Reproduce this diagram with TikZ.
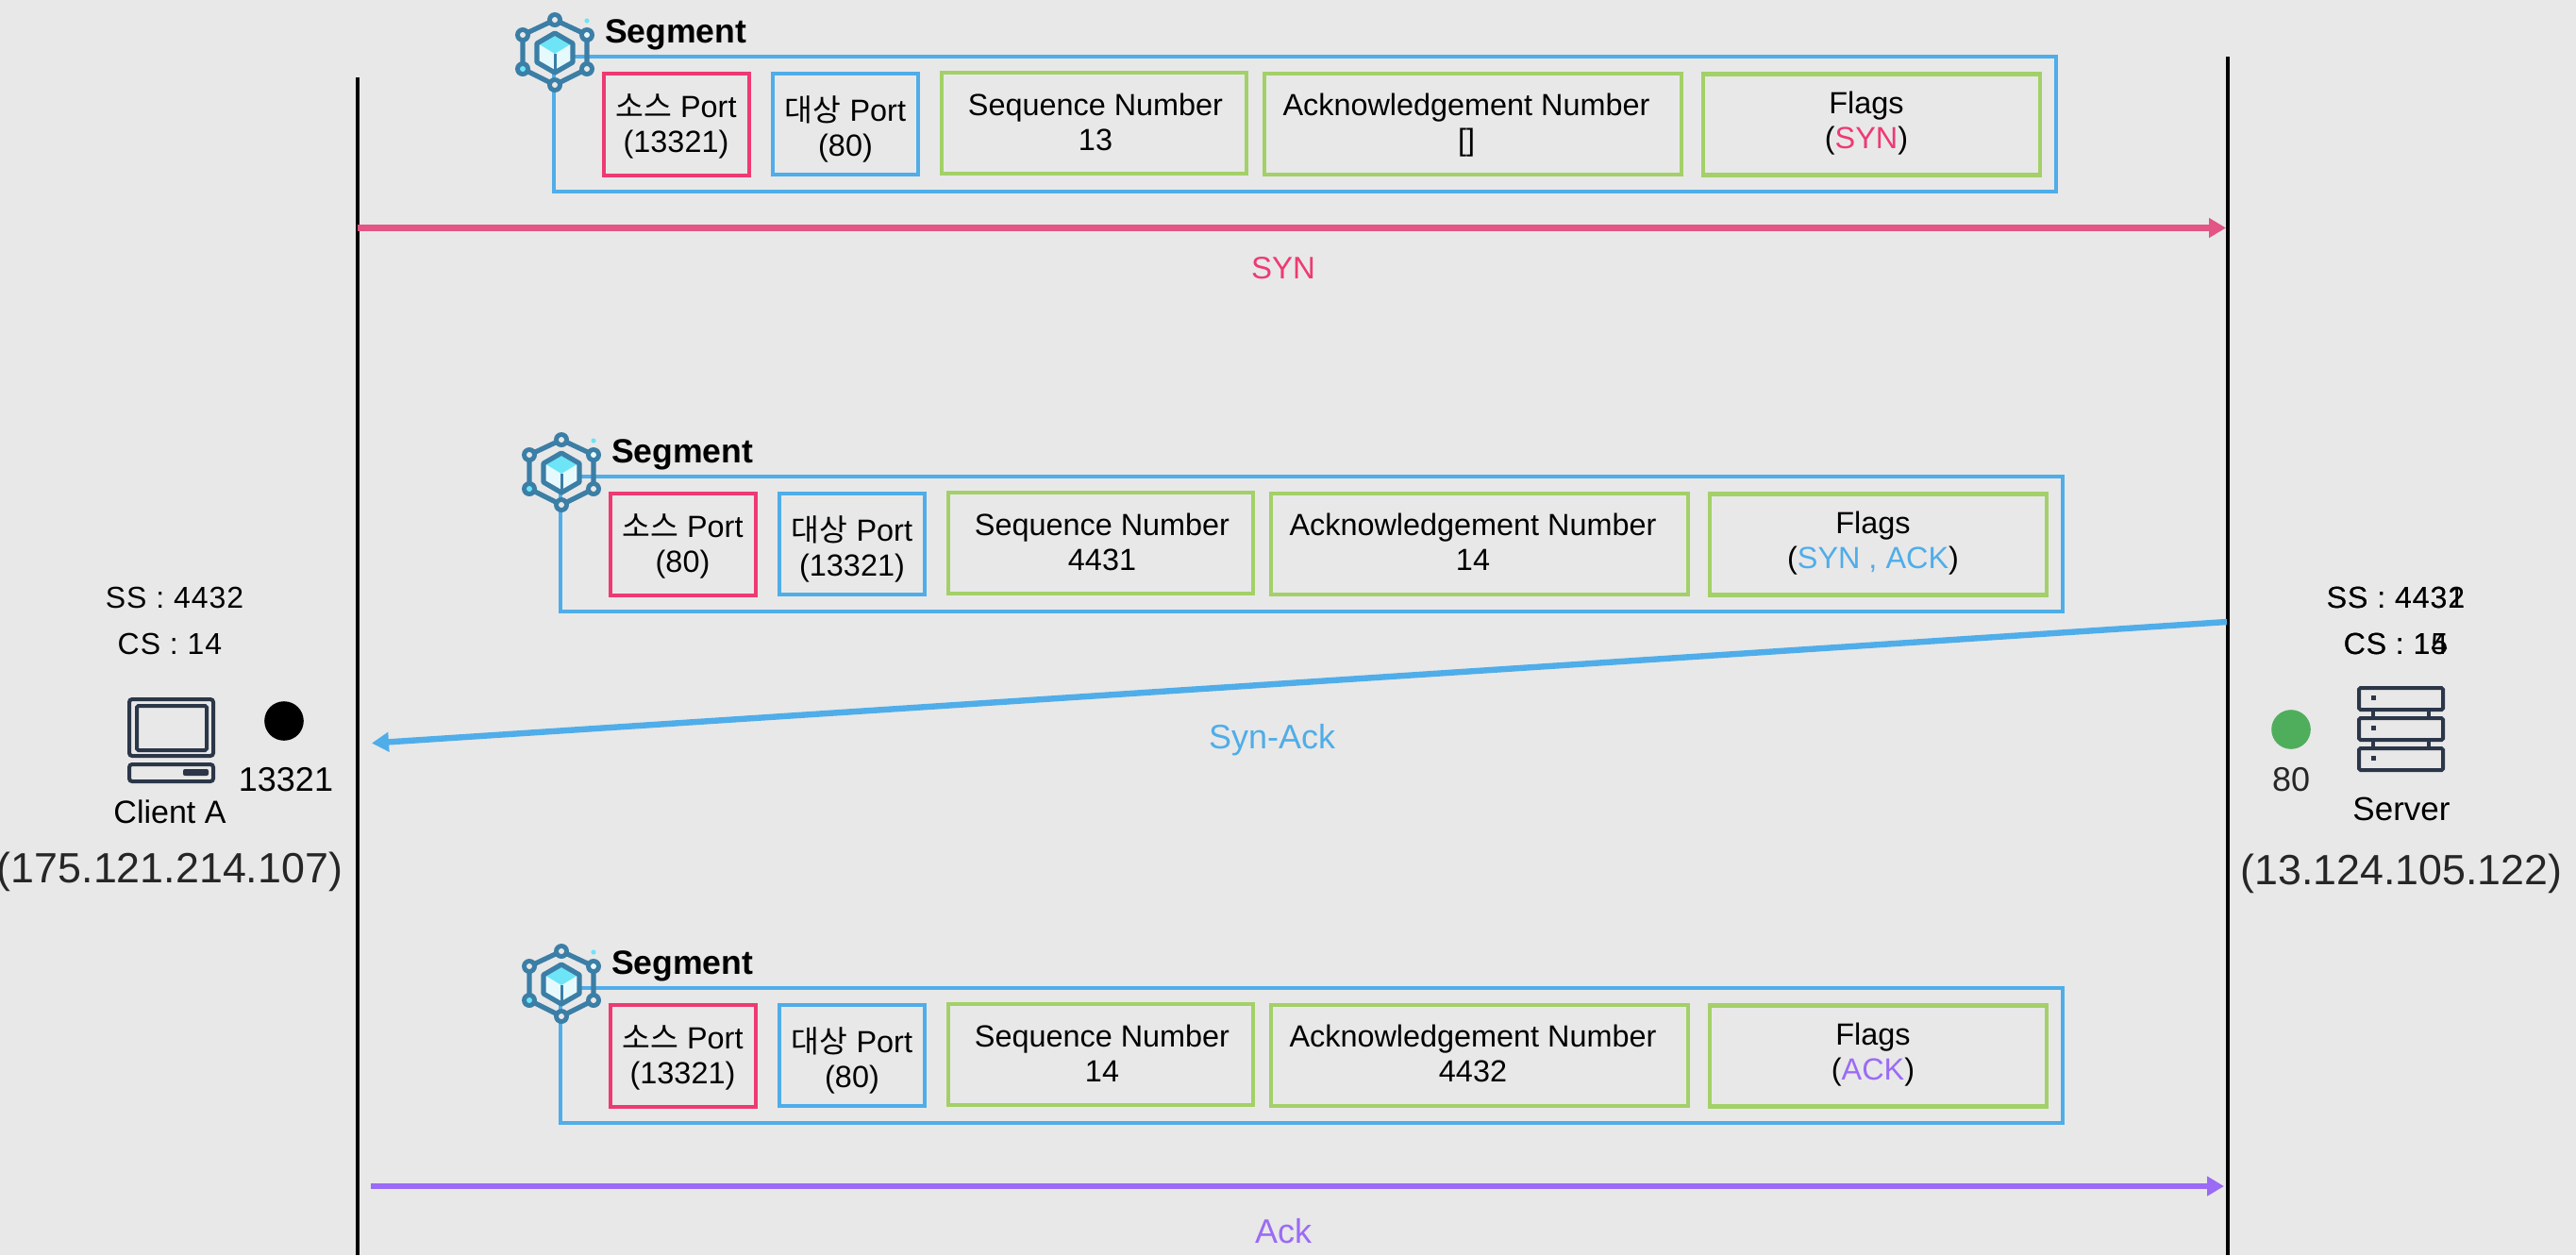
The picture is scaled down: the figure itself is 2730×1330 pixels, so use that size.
\documentclass[tikz,border=0pt]{standalone}
\usepackage{fontspec}
\usepackage{xcolor}
\setmainfont{Liberation Sans}
\newfontfamily\kr{Noto Sans CJK KR}
\newfontfamily\wideface[LetterSpace=3]{Liberation Sans}
\usetikzlibrary{arrows.meta}
\definecolor{bgc}{HTML}{E8E8E8}
\definecolor{redc}{HTML}{EE3A72}
\definecolor{bluec}{HTML}{4FADE9}
\definecolor{greenc}{HTML}{A3D068}
\definecolor{synline}{HTML}{E25585}
\definecolor{purplec}{HTML}{9B6BF5}
\definecolor{iconc}{HTML}{3B7EA6}
\definecolor{cubetop}{HTML}{6EE4F7}
\definecolor{cubeface}{HTML}{E6FAFE}
\definecolor{devc}{HTML}{2B3648}
\definecolor{dotgreen}{HTML}{4FAE5C}
\tikzset{
  fieldbox/.style={draw=#1,line width=2.2pt,inner sep=0pt,outer sep=0pt,rectangle},
  segbox/.style={draw=bluec,line width=2.2pt,inner sep=0pt,outer sep=0pt,rectangle,minimum width=796pt,minimum height=71.5pt},
  fieldtxt/.style={inner sep=0pt,outer sep=0pt,align=center,font=\fontsize{16.2}{18.75}\selectfont},
  seglabel/.style={inner sep=0pt,outer sep=0pt,anchor=base west,font=\fontsize{17.8}{20}\selectfont\bfseries},
  base/.style={inner sep=0pt,outer sep=0pt,anchor=base},
  lifeline/.style={draw=black,line width=2.2pt},
  msg/.style={line width=3.2pt,draw=#1,-{Triangle[length=9pt,width=10pt]}},
  devline/.style={draw=devc,line width=2pt,rounded corners=1.5pt},
  hexline/.style={draw=iconc,line width=2.6pt,line join=round},
}
\newcommand{\segicon}{%
  \draw[hexline] (588,21) -- (622,37) -- (622,73) -- (588,90) -- (554,73) -- (554,37) -- cycle;
  \fill[cubeface] (588,35) -- (607,46) -- (607,66) -- (588,77) -- (569,66) -- (569,46) -- cycle;
  \fill[cubetop] (588,36) -- (606,46) -- (588,57) -- (570,46) -- cycle;
  \draw[hexline] (588,35) -- (607,46) -- (607,66) -- (588,77) -- (569,66) -- (569,46) -- cycle;
  \draw[draw=iconc,line width=1.5pt] (588,57) -- (588,76);
  \foreach \px/\py/\pc in {588/21/bgc,622/37/cubeface,622/73/bgc,588/90/bgc,554/73/cubetop,554/37/bgc}{
    \fill[iconc] (\px,\py) circle[radius=8];
    \fill[\pc] (\px,\py) circle[radius=3];
  }
  \fill[cubetop] (622,22) circle[radius=2.6];
}
% #1 id, #2 source, #3 target, #4 seq, #5 ack, #6 flags
\newcommand{\segment}[6]{%
  \node[segbox] (#1) at (1383,131.5) {};
  \segicon
  \node[seglabel] (#1title) at (641,45) {Segment};
  \node[fieldbox=redc,minimum width=77pt,minimum height=54pt] (#1src) at (717,132) {};
  \node[fieldbox=bluec,minimum width=77pt,minimum height=53.5pt] (#1dst) at (896,131.5) {};
  \node[fieldbox=greenc,minimum width=161.5pt,minimum height=53.5pt] (#1seq) at (1159.5,130.5) {};
  \node[fieldbox=greenc,minimum width=221pt,minimum height=53.5pt] (#1ack) at (1561,131.5) {};
  \node[fieldbox=greenc,minimum width=178.5pt,minimum height=53.5pt] (#1flags) at (1983.5,132) {};
  \node[fieldtxt] (#1srct) at (716.5,135.5) {\strut{\kr 소스} Port\\\strut(#2)};
  \node[fieldtxt] (#1dstt) at (896,139) {\strut{\kr 대상} Port\\\strut(#3)};
  \node[fieldtxt] (#1seqt) at (1161,133.5) {\strut Sequence Number\\\strut #4};
  \node[fieldtxt] (#1ackt) at (1554,133.5) {\strut Acknowledgement Number\\\strut #5};
  \node[fieldtxt] (#1flagst) at (1978,131.5) {\strut Flags\\\strut(#6)};
}
\begin{document}
\begin{tikzpicture}[x=0.5pt,y=-0.5pt]
\useasboundingbox (0,0) rectangle (2730,1330);
\fill[bgc] (0,0) rectangle (2730,1330);

% lifelines
\coordinate (ltop) at (379,82);
\coordinate (lbot) at (379,1330);
\coordinate (rtop) at (2361,60);
\coordinate (rbot) at (2361,1330);
\draw[lifeline] (ltop) -- (lbot);
\draw[lifeline] (rtop) -- (rbot);

% segments
\begin{scope}
  \segment{a}{13321}{80}{13}{[]}{\textcolor{redc}{SYN}}
\end{scope}
\begin{scope}[shift={(7,445)}]
  \segment{b}{80}{13321}{4431}{14}{\textcolor{bluec}{SYN , ACK}}
\end{scope}
\begin{scope}[shift={(7,987)}]
  \segment{c}{13321}{80}{14}{4432}{\textcolor{purplec}{ACK}}
\end{scope}

% messages
\coordinate (synA) at (379,241.5);
\coordinate (synB) at (2359,241.5);
\coordinate (saA) at (2360,659);
\coordinate (saB) at (394,787.5);
\coordinate (ackA) at (393,1257);
\coordinate (ackB) at (2357,1257);
\draw[msg=synline] (synA) -- (synB);
\draw[msg=bluec] (saA) -- (saB);
\draw[msg=purplec] (ackA) -- (ackB);
\node[base,text=redc,font=\fontsize{16.5}{20}\selectfont] (synl) at (1360,295) {SYN};
\node[base,text=bluec,font=\fontsize{18}{20}\selectfont] (sal) at (1348,793) {Syn-Ack};
\node[base,text=purplec,font=\fontsize{18}{20}\selectfont] (ackl) at (1360,1317) {Ack};

% client
\node[base,font=\fontsize{16}{18}\selectfont\wideface] (css) at (185,644) {SS : 4432};
\node[base,font=\fontsize{16}{18}\selectfont\wideface] (ccs) at (180,693) {CS : 14};
\draw[devline] (137,741) rectangle (226,801);
\draw[devline,rounded corners=0.8pt] (145,748) rectangle (219,795);
\draw[devline] (137,810) rectangle (226,828);
\fill[devc,rounded corners=1pt] (194,815) rectangle (221,822);
\node[circle,fill=black,inner sep=0pt,minimum size=20.8pt] (cdot) at (301,764) {};
\node[base,font=\fontsize{18}{20}\selectfont] (cport) at (303,838) {13321};
\node[base,font=\fontsize{17}{20}\selectfont] (cname) at (180,872) {Client A};
\node[base,text=black!85,font=\fontsize{22.4}{26}\selectfont] (cip) at (180,935) {(175.121.214.107)};

% server
\node[base,font=\fontsize{16}{18}\selectfont\wideface] (sss1) at (2539,644) {SS : 4431};
\node[base,font=\fontsize{16}{18}\selectfont\wideface] (sss2) at (2539,644) {SS : 4432};
\node[base,font=\fontsize{16}{18}\selectfont\wideface] (scs1) at (2539,693) {CS : 14};
\node[base,font=\fontsize{16}{18}\selectfont\wideface] (scs2) at (2539,693) {CS : 15};
\foreach \ty in {729,761,793}{
  \draw[devline,rounded corners=0.8pt] (2500,\ty) rectangle (2589,\ty+23);
  \fill[devc] (2512.5,\ty+8) rectangle (2517.5,\ty+13);
}
\foreach \tx in {2515,2574}{
  \draw[draw=devc,line width=1.8pt] (\tx,752) -- (\tx,761);
  \draw[draw=devc,line width=1.8pt] (\tx,784) -- (\tx,793);
}
\node[circle,fill=dotgreen,inner sep=0pt,minimum size=20.8pt] (sdot) at (2428,773) {};
\node[base,text=black!85,font=\fontsize{18}{20}\selectfont] (sport) at (2428,838) {80};
\node[base,font=\fontsize{17.5}{20}\selectfont] (sname) at (2545,869) {Server};
\node[base,text=black!85,font=\fontsize{22.4}{26}\selectfont] (sip) at (2545,937) {(13.124.105.122)};
\end{tikzpicture}
\end{document}
